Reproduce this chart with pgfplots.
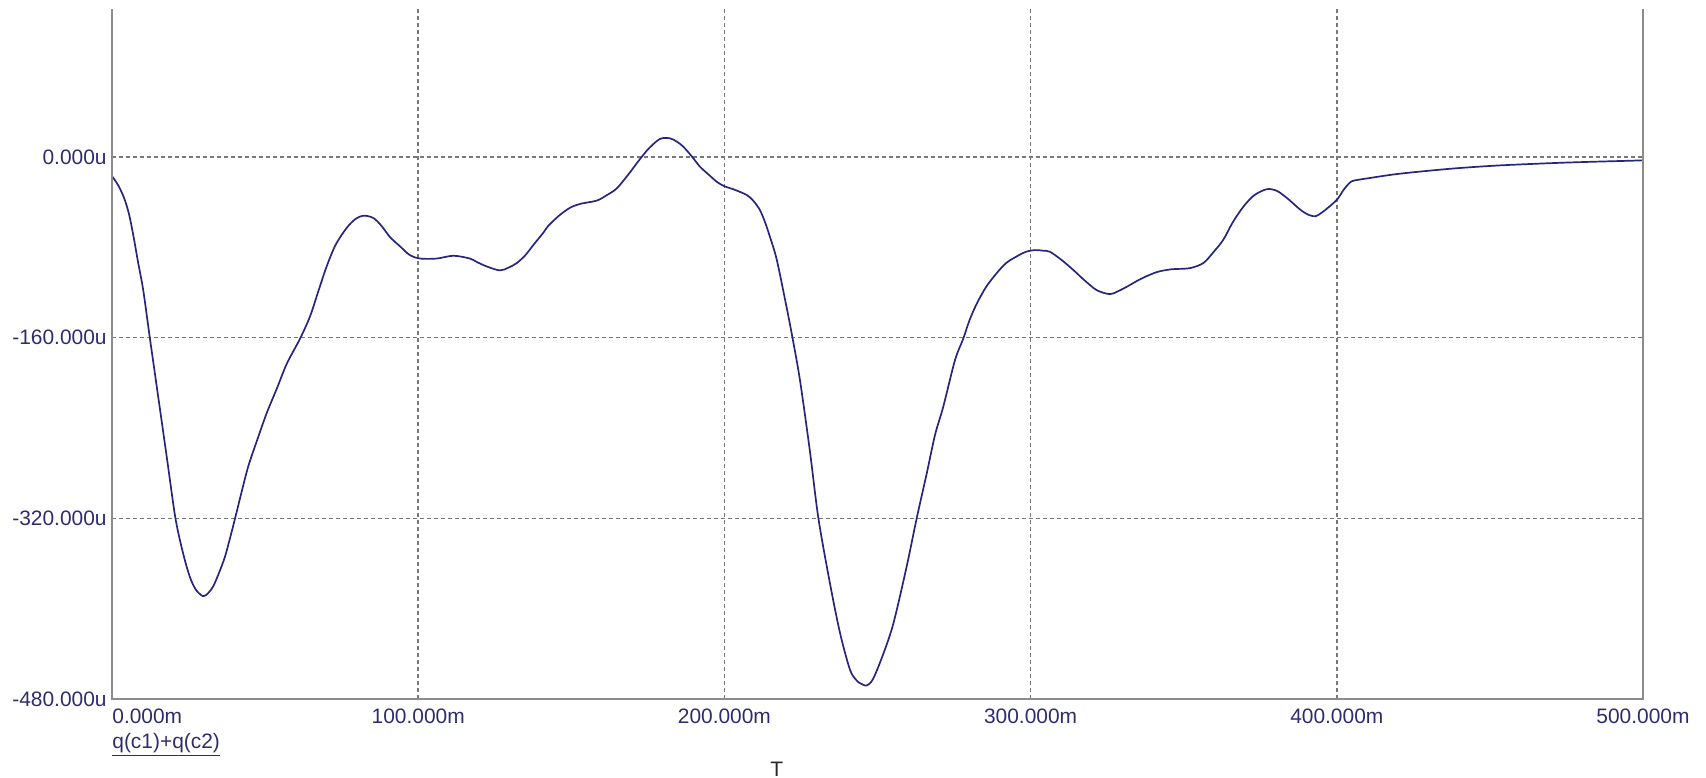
\documentclass[border=0pt]{standalone}
\usepackage{pgfplots}
\pgfplotsset{compat=1.18}
\usepackage{fontspec}
\setmainfont{Liberation Sans}

\definecolor{labelnavy}{RGB}{45,45,110}
\definecolor{tracecol}{RGB}{38,38,125}
\definecolor{gridgray}{RGB}{120,120,120}
\definecolor{framegray}{RGB}{140,140,140}

% q(c1)+q(c2) against time: t in ms, charge in uC
\pgfplotstableread{
t v
0 -17
2 -25
3.9 -36
5.5 -50
7 -70
8.5 -93
10.2 -118
12.4 -161
15.7 -224
18 -268
20.6 -318
22.5 -343
24.4 -363
26 -376
27.6 -384
29.8 -389
31.5 -386
33.1 -380
35 -368
36.9 -354
38.5 -338
40.2 -320
42.3 -297
44.5 -274
47.5 -250
50.5 -227
54 -204
57.1 -183
61.4 -161
64.7 -141
67.5 -118
70.1 -97
73 -78
76.6 -63
79.5 -55
82.1 -52
85.3 -54
88 -61
90.8 -71
94 -79
97.3 -87
100.6 -90
106 -90
111.5 -87.5
116.9 -90
119.1 -93
122.4 -97
126.7 -100.5
129.5 -98
132.2 -94
135 -87
137.6 -78
140.9 -67
142.5 -61
146 -52
149.6 -45
153 -41.5
158.3 -38.7
161.5 -34
164.8 -28
168.5 -16
172.4 -2
175.5 8
179 16
182.2 16.5
184.5 13.5
186.6 9
189.5 0
192 -8.6
195 -16
197.5 -22
200 -26
202.9 -28.6
207.3 -33.7
209.5 -39
211.6 -47
213.3 -58
214.9 -71
217.1 -91
220.3 -133
222.3 -161
224.7 -198
227.9 -260
230.7 -320
234.5 -378
237.8 -422
241 -454
243 -463
244.3 -466
246.5 -468
248.6 -462
251.9 -440
255.2 -413
259.5 -363
262.8 -320
266.1 -280
268.8 -246
271.5 -221
275.3 -180
278 -161
280 -145
282.4 -130
285.5 -115
288.9 -103
292 -94
295.5 -88
298.5 -84
301.4 -82.5
304 -83
306.3 -84
310 -91
313.9 -100
317.5 -109
321.6 -118
325.9 -121.5
328.5 -119
331.4 -115
336 -108
341.2 -102
346 -99.5
352 -98.5
356.4 -94
359.5 -85
362.9 -73.5
366 -58
369.5 -44
373 -34
377.1 -28.6
380.4 -30
384 -37
388.2 -47
391 -51.5
393.1 -52.5
395 -49.5
396.9 -45.5
400.2 -37.5
402 -30
404.6 -22
407.6 -20
410 -19
420.1 -15
437 -10.5
453.3 -7.5
475 -5
496.8 -3.3
500 -3
}\chargedata

\begin{document}
\begin{tikzpicture}
\useasboundingbox (-56bp,-39.5bp) rectangle (797bp,349.5bp);
\begin{axis}[
  at={(0,0)}, anchor=south west,
  scale only axis, width=765.5bp, height=345bp,
  xmin=0, xmax=500, ymin=-480, ymax=131,
  axis line style={draw=none},
  xtick={0,100,200,300,400,500},
  xticklabels={,100.000m,200.000m,300.000m,400.000m,500.000m},
  ytick={-480,-320,-160,0},
  yticklabels={-480.000u,-320.000u,-160.000u,0.000u},
  major tick length=0pt,
  grid=major,
  major grid style={gridgray, line width=0.75bp, dash pattern=on 2bp off 1.5bp},
  tick label style={font=\fontsize{10.5}{12}\selectfont, text=labelnavy, inner sep=0pt},
  xticklabel style={yshift=-4.5bp},
  yticklabel style={xshift=-2.5bp},
  clip=false,
]
\addplot[tracecol, line width=0.85bp, smooth, tension=0.5] table[x=t, y=v] {\chargedata};
\draw[framegray, line width=0.8bp] (rel axis cs:0,1) -- (rel axis cs:0,0) -- (rel axis cs:1,0) -- (rel axis cs:1,1);
\node[anchor=north west, inner sep=0pt, font=\fontsize{10.5}{12}\selectfont, text=labelnavy, yshift=-4.5bp] at (rel axis cs:0,0) {0.000m};
\node[anchor=base west, inner sep=0pt, font=\fontsize{10.5}{12}\selectfont, text=labelnavy, yshift=-24.5bp] at (rel axis cs:0,0) {\underline{q(c1)+q(c2)}};
\node[anchor=base, inner sep=0pt, font=\fontsize{10.5}{12}\selectfont, text=black!85, yshift=-38.5bp] at (axis cs:217.1,-480) {T};
\end{axis}
\end{tikzpicture}
\end{document}
